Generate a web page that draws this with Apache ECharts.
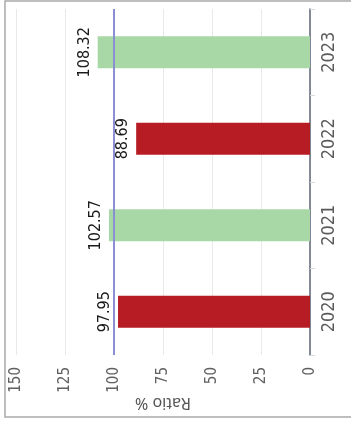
<!DOCTYPE html>
<html>
<head>
<meta charset="utf-8">
<script src="https://cdn.jsdelivr.net/npm/echarts@6/dist/echarts.min.js"></script>
<style>
  html, body { margin: 0; padding: 0; background: #fff; }
  #chart { width: 351px; height: 421px; }
</style>
</head>
<body>
<div id="chart"></div>
<script>
// Yearly ratio, in percent
const years = ['2020', '2021', '2022', '2023'];
const ratios = [97.95, 102.57, 88.69, 108.32];
const valueTicks = [0, 25, 50, 75, 100, 125, 150];
const reference = 100;

const RED = '#b71c25';
const GREEN = '#a8d8a5';
const FONT = '"Liberation Sans Narrow", "DejaVu Sans Condensed", "Noto Sans", sans-serif';

const chart = echarts.init(document.getElementById('chart'), null, { renderer: 'canvas' });

chart.setOption({
  animation: false,
  backgroundColor: '#fff',
  textStyle: { fontFamily: FONT },
  grid: { left: 16, right: 41, top: 9, bottom: 66 },
  graphic: [{
    type: 'rect',
    shape: { x: 5, y: 1, width: 400, height: 416 },
    style: { fill: 'none', stroke: '#a9a9a9', lineWidth: 1.5 },
    silent: true
  }],
  xAxis: {
    type: 'value',
    inverse: true,
    min: valueTicks[0],
    max: valueTicks[valueTicks.length - 1],
    interval: valueTicks[1] - valueTicks[0],
    axisLine: { show: false },
    axisTick: { show: false },
    splitLine: { lineStyle: { color: '#e9e9e9', width: 1 } },
    axisLabel: { rotate: 90, margin: 12, color: '#606060', fontSize: 15, fontFamily: FONT },
    name: 'Ratio %',
    nameLocation: 'middle',
    nameGap: 40,
    nameMoveOverlap: false,
    nameRotate: 180,
    nameTextStyle: { color: '#555', fontSize: 16, fontFamily: '"Noto Sans", sans-serif' }
  },
  yAxis: {
    type: 'category',
    position: 'right',
    data: years,
    axisLine: { lineStyle: { color: '#5d6476', width: 1.5 } },
    axisTick: { show: true, length: 5, lineStyle: { color: '#d5d9e4' } },
    axisLabel: { rotate: 90, margin: 10, color: '#5a5a5a', fontSize: 18, fontFamily: FONT },
    splitLine: { show: false }
  },
  series: [{
    type: 'bar',
    barWidth: 32,
    data: ratios.map(v => ({
      value: v,
      itemStyle: { color: v < reference ? RED : GREEN }
    })),
    label: {
      show: true,
      position: 'left',
      distance: 5,
      rotate: 90,
      align: 'center',
      verticalAlign: 'bottom',
      color: '#1a1a1a',
      fontSize: 16,
      fontFamily: FONT,
      formatter: p => p.value.toFixed(2)
    },
    markLine: {
      silent: true,
      symbol: 'none',
      label: { show: false },
      lineStyle: { color: '#8a8ed2', width: 2, type: 'solid' },
      data: [{ xAxis: reference }]
    }
  }]
});
</script>
</body>
</html>
